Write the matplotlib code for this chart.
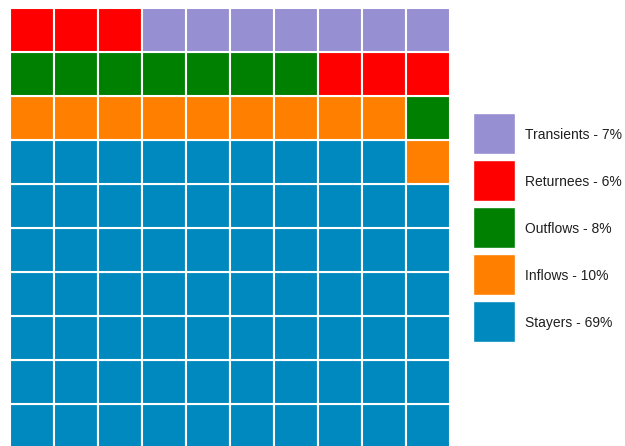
import matplotlib
matplotlib.use("Agg")
import matplotlib.pyplot as plt
from matplotlib.patches import Rectangle

# Share of each group (out of 100 squares), in fill order from the bottom
categories = ["Stayers", "Inflows", "Outflows", "Returnees", "Transients"]
values = [69, 10, 8, 6, 7]
colors = ["#0089BE", "#FF8000", "#008000", "#FF0000", "#968FD2"]

n_cols, n_rows = 10, 10

W, H = 625, 446
fig = plt.figure(figsize=(W / 100, H / 100), dpi=100)

# Waffle grid: 10x10 squares, 44 px per cell, top-left at (10, 8)
cell = 44
left, top = 10, 8
ax = fig.add_axes([left / W, (H - top - n_rows * cell) / H,
                   n_cols * cell / W, n_rows * cell / H])
ax.set_xlim(0, n_cols)
ax.set_ylim(0, n_rows)
ax.axis("off")

idx = 0
for cat, val, col in zip(categories, values, colors):
    for _ in range(val):
        r, c = divmod(idx, n_cols)
        ax.add_patch(Rectangle((c, r), 1, 1, facecolor=col,
                               edgecolor="white", linewidth=1.5))
        idx += 1

# Legend: square keys stacked top-down, reversed order
lax = fig.add_axes([0, 0, 1, 1])
lax.set_xlim(0, W)
lax.set_ylim(H, 0)
lax.axis("off")
key_x, key_y0, key_w, key_h, key_step = 473, 113, 42, 41, 47
for i, (cat, val, col) in enumerate(zip(categories[::-1], values[::-1], colors[::-1])):
    y = key_y0 + i * key_step
    lax.add_patch(Rectangle((key_x, y), key_w, key_h, facecolor=col,
                            edgecolor="white", linewidth=1.0))
    lax.text(key_x + key_w + 10, y + key_h / 2, f"{cat} - {val}%",
             ha="left", va="center_baseline", fontsize=10, color="#1F1F1F",
             family="Liberation Sans")

fig.savefig("out.png", dpi=100)
